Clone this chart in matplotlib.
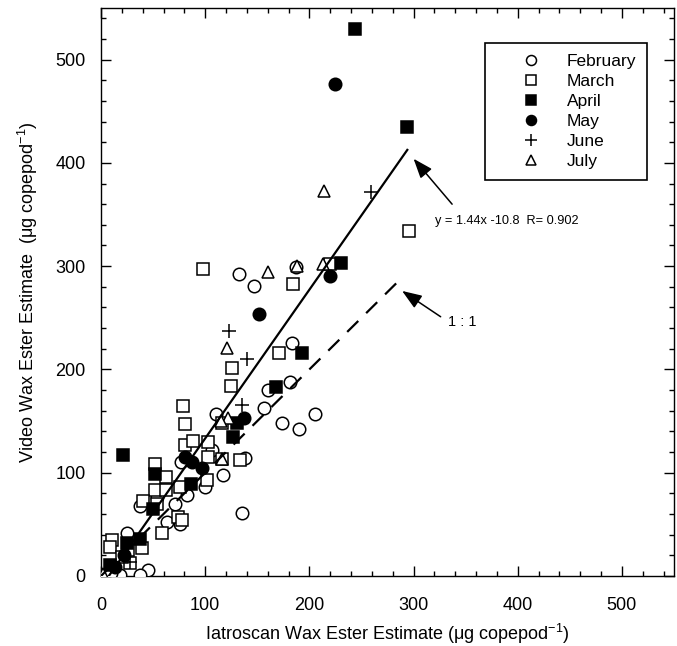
import numpy as np
import matplotlib
matplotlib.use('Agg')
import matplotlib.pyplot as plt
from matplotlib.ticker import MultipleLocator

plt.rcParams['font.family'] = ['Liberation Sans', 'DejaVu Sans']
plt.rcParams['mathtext.fontset'] = 'custom'
plt.rcParams['mathtext.rm'] = 'Liberation Sans'

# values (Iatroscan x, Video y)
feb_x = [187, 132, 147, 183, 160, 181, 156, 110, 174, 190, 205, 135, 107, 138, 77, 117,
         100, 83, 54, 71, 37, 63, 76, 25, 45, 37, 18, 10]
feb_y = [299, 292, 281, 226, 180, 188, 163, 157, 148, 142, 157, 61, 122, 114, 110, 98,
         86, 78, 76, 70, 68, 52, 50, 42, 6, 1, 1, 3]

mar_x = [98, 220, 184, 296, 126, 125, 171, 116, 79, 81, 81, 88, 103, 103, 116, 133,
         52, 62, 102, 76, 52, 62, 40, 54, 74, 78, 59, 11, 9, 39, 26, 28, 20]
mar_y = [297, 302, 283, 334, 201, 184, 216, 148, 165, 147, 127, 131, 130, 115, 113, 112,
         108, 96, 93, 86, 83, 83, 73, 70, 57, 54, 42, 35, 28, 27, 25, 13, 18]

apr_x = [244, 294, 230, 193, 168, 131, 127, 21, 52, 86, 50, 37, 25, 9]
apr_y = [530, 435, 303, 216, 183, 148, 135, 117, 99, 89, 65, 36, 32, 11]

may_x = [225, 220, 152, 137, 81, 87, 97, 13, 22]
may_y = [476, 290, 254, 153, 115, 110, 105, 9, 20]

jun_x = [259, 123, 140, 135, 28]
jun_y = [372, 237, 210, 166, 14]

jul_x = [214, 213, 188, 160, 121, 122, 115, 2, 116]
jul_y = [373, 302, 300, 294, 221, 153, 150, 2, 113]

slope, intercept, r_val = 1.44, -10.8, 0.902
fit_range = [7.5, 294]
one_to_one = [0, 290]

fig = plt.figure(figsize=(6.77, 6.46), dpi=100)
ax = fig.add_axes([0.1492, 0.1084, 0.8464, 0.8793])

ms = 9
mew = 1.1
ax.plot(feb_x, feb_y, 'o', ms=ms, mfc='white', mec='black', mew=mew, label='February', zorder=3)
ax.plot(mar_x, mar_y, 's', ms=ms, mfc='white', mec='black', mew=mew, label='March', zorder=3)
ax.plot(apr_x, apr_y, 's', ms=ms, mfc='black', mec='black', mew=mew, label='April', zorder=3)
ax.plot(may_x, may_y, 'o', ms=ms, mfc='black', mec='black', mew=mew, label='May', zorder=3)
ax.plot(jun_x, jun_y, '+', ms=ms + 1, mec='black', mew=1.1, label='June', zorder=3)
ax.plot(jul_x, jul_y, '^', ms=ms, mfc='white', mec='black', mew=mew, label='July', zorder=3)

# regression and 1:1 lines
fx = np.array(fit_range)
ax.plot(fx, slope * fx + intercept, color='black', lw=1.6, zorder=4)
ox = np.array(one_to_one)
ax.plot(ox, ox, color='black', lw=1.6, dashes=(7, 5), zorder=4)

arrow = dict(arrowstyle='-|>,head_length=1.2,head_width=0.45', color='black',
             lw=1.1, shrinkA=0, shrinkB=0)
ax.annotate('', xy=(300, 404), xytext=(337, 360), arrowprops=arrow)
ax.text(321, 344, f'y = {slope}x {intercept}  R= {r_val}', fontsize=9.2,
        va='center', ha='left')
ax.annotate('', xy=(289, 276), xytext=(326, 251), arrowprops=arrow)
ax.text(333, 246, '1 : 1', fontsize=10.5, va='center', ha='left')

ax.set_xlim(0, 550)
ax.set_ylim(0, 550)
ax.xaxis.set_major_locator(MultipleLocator(100))
ax.yaxis.set_major_locator(MultipleLocator(100))
ax.xaxis.set_minor_locator(MultipleLocator(20))
ax.yaxis.set_minor_locator(MultipleLocator(20))
ax.tick_params(which='both', direction='in', top=True, right=True, width=1)
ax.tick_params(which='major', length=7, labelsize=13)
ax.tick_params(which='minor', length=3.5)
ax.tick_params(axis='x', pad=15)
ax.tick_params(axis='y', pad=11)
for s in ax.spines.values():
    s.set_linewidth(1.0)

ax.set_xlabel('Iatroscan Wax Ester Estimate (\u03bcg copepod$^{\\mathregular{-1}}$)', fontsize=13, labelpad=6)
ax.set_ylabel('Video Wax Ester Estimate  (\u03bcg copepod$^{\\mathregular{-1}}$)', fontsize=13, labelpad=11)

leg = ax.legend(loc='upper left', bbox_to_anchor=(0.670, 0.938), fontsize=12.5,
                frameon=True, fancybox=False, edgecolor='black', framealpha=1,
                borderpad=0.63, handlelength=4.1, handletextpad=0.0, labelspacing=0.28,
                borderaxespad=0, markerscale=0.8)
leg.get_frame().set_linewidth(1.2)

fig.savefig('out.png', dpi=100)
